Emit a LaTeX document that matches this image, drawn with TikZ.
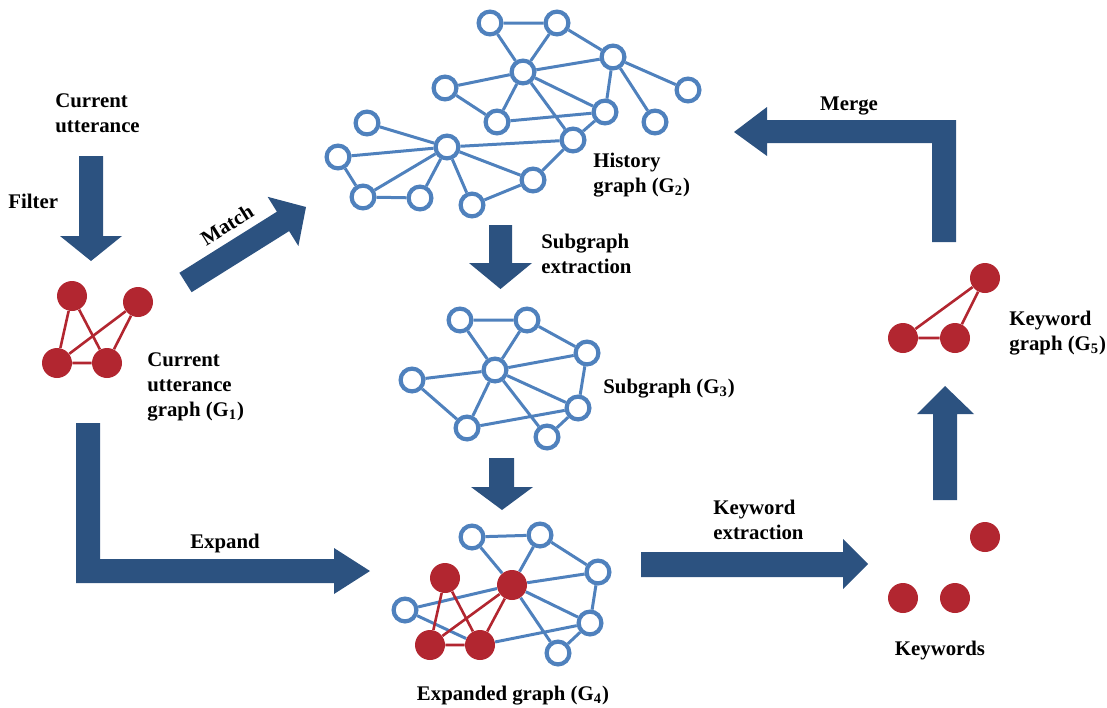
\documentclass[tikz,border=0pt]{standalone}
\usepackage{fontspec}
\setmainfont{Liberation Serif}
\definecolor{nodeblue}{RGB}{79,129,189}
\definecolor{nodered}{RGB}{178,38,48}
\definecolor{arrowblue}{RGB}{44,82,128}
\tikzset{
  bnode/.style={circle, draw=nodeblue, fill=white, line width=2.1pt, minimum size=11.4pt, inner sep=0pt},
  rnode/.style={circle, fill=nodered, minimum size=15pt, inner sep=0pt},
  bedge/.style={nodeblue, line width=1.5pt},
  redge/.style={nodered, line width=1.3pt},
  blockarrow/.style={fill=arrowblue},
  lbl/.style={font=\fontsize{10.4}{12.5}\selectfont\bfseries, inner sep=0pt, align=left, anchor=base west}
}
\begin{document}
\begin{tikzpicture}[x=0.5pt, y=-0.5pt]
    \useasboundingbox (0,0) rectangle (1107,707);
    % block arrows
    \fill[blockarrow] (79,156) -- (103,156) -- (103,236) -- (122,236) -- (91,261) -- (60,236) -- (79,236) -- cycle;
    \fill[blockarrow] (179.4,272.8) -- (276.9,211.7) -- (267.6,196.8) -- (306,207) -- (298.4,246.0) -- (289.1,231.1) -- (191.6,292.2) -- cycle;
    \fill[blockarrow] (489,225) -- (512,225) -- (512,263) -- (532,263) -- (500.5,289) -- (469,263) -- (489,263) -- cycle;
    \fill[blockarrow] (489,458) -- (514,458) -- (514,487) -- (533,487) -- (502,510) -- (471,487) -- (489,487) -- cycle;
    \fill[blockarrow] (76,423) -- (100,423) -- (100,559) -- (334,559) -- (334,548) -- (370,571) -- (334,594) -- (334,583) -- (76,583) -- cycle;
    \fill[blockarrow] (641,552) -- (843,552) -- (843,539) -- (868,564) -- (843,589) -- (843,577) -- (641,577) -- cycle;
    \fill[blockarrow] (933,500) -- (933,414) -- (917,414) -- (945,386) -- (974,414) -- (957,414) -- (957,500) -- cycle;
    \fill[blockarrow] (956,242) -- (956,120) -- (767,120) -- (767,107) -- (734,132) -- (767,156) -- (767,143) -- (932,143) -- (932,242) -- cycle;
    % history graph G2
    \node[bnode] (h1) at (490,23) {};
    \node[bnode] (h2) at (557,23) {};
    \node[bnode] (h3) at (613,57) {};
    \node[bnode] (h4) at (523,72) {};
    \node[bnode] (h5) at (445,88) {};
    \node[bnode] (h6) at (688,90) {};
    \node[bnode] (h7) at (497,122) {};
    \node[bnode] (h8) at (605,112) {};
    \node[bnode] (h9) at (655,122) {};
    \node[bnode] (h10) at (367,123) {};
    \node[bnode] (h11) at (573,140) {};
    \node[bnode] (h12) at (447,147) {};
    \node[bnode] (h13) at (338,157) {};
    \node[bnode] (h14) at (533,180) {};
    \node[bnode] (h15) at (363,197) {};
    \node[bnode] (h16) at (420,198) {};
    \node[bnode] (h17) at (472,205) {};
    \draw[bedge] (h1) -- (h2) -- (h4) -- (h1);
    \draw[bedge] (h2) -- (h3) -- (h4) -- (h5) -- (h7) -- (h4) -- (h8) -- (h3);
    \draw[bedge] (h3) -- (h6);
    \draw[bedge] (h3) -- (h9);
    \draw[bedge] (h7) -- (h8) -- (h11) -- (h4);
    \draw[bedge] (h10) -- (h12) -- (h11) -- (h14) -- (h12);
    \draw[bedge] (h12) -- (h13) -- (h15) -- (h12) -- (h16) -- (h15);
    \draw[bedge] (h12) -- (h17) -- (h14);
    % subgraph G3
    \node[bnode] (s1) at (460,320) {};
    \node[bnode] (s2) at (527,320) {};
    \node[bnode] (s3) at (587,353) {};
    \node[bnode] (s4) at (495,370) {};
    \node[bnode] (s5) at (412,380) {};
    \node[bnode] (s6) at (578,408) {};
    \node[bnode] (s7) at (467,428) {};
    \node[bnode] (s8) at (547,437) {};
    \draw[bedge] (s1) -- (s2) -- (s4) -- (s1);
    \draw[bedge] (s2) -- (s3) -- (s4) -- (s5) -- (s7) -- (s4) -- (s6) -- (s3);
    \draw[bedge] (s4) -- (s8) -- (s6) -- (s7);
    % expanded graph G4
    \node[bnode] (e1) at (472,537) {};
    \node[bnode] (e2) at (540,535) {};
    \node[bnode] (e3) at (598,572) {};
    \node[rnode] (e4) at (445,578) {};
    \node[rnode] (e5) at (512,585) {};
    \node[bnode] (e6) at (405,610) {};
    \node[bnode] (e7) at (590,623) {};
    \node[rnode] (e8) at (430,645) {};
    \node[rnode] (e9) at (480,645) {};
    \node[bnode] (e10) at (558,653) {};
    \draw[bedge] (e1) -- (e2) -- (e5) -- (e1);
    \draw[bedge] (e2) -- (e3) -- (e5) -- (e6) -- (e9) -- (e7) -- (e3);
    \draw[bedge] (e5) -- (e7) -- (e10) -- (e5);
    \draw[redge] (e4) -- (e8) -- (e9) -- (e4);
    \draw[redge] (e8) -- (e5) -- (e9);
    % current utterance graph G1
    \node[rnode] (g1) at (72,296) {};
    \node[rnode] (g2) at (138,302) {};
    \node[rnode] (g3) at (57,363) {};
    \node[rnode] (g4) at (107,363) {};
    \draw[redge] (g1) -- (g3) -- (g4) -- (g1);
    \draw[redge] (g3) -- (g2) -- (g4);
    % keywords and keyword graph G5
    \node[rnode] (k1) at (985,537) {};
    \node[rnode] (k2) at (903,598) {};
    \node[rnode] (k3) at (955,598) {};
    \node[rnode] (q1) at (985,278) {};
    \node[rnode] (q2) at (903,338) {};
    \node[rnode] (q3) at (955,338) {};
    \draw[redge] (q1) -- (q2) -- (q3) -- (q1);
    % labels (base = last line)
    \node[lbl] (curutt) at (55,132) {Current\\utterance};
    \node[lbl] (filter) at (8,208) {Filter};
    \node[lbl, anchor=center, rotate=32] (match) at (227,225) {Match};
    \node[lbl] (g1lbl) at (147,416) {Current\\utterance\\graph (G\textsubscript{1})};
    \node[lbl] (h2lbl) at (593,192) {History\\graph (G\textsubscript{2})};
    \node[lbl] (sublbl) at (541,273) {Subgraph\\extraction};
    \node[lbl] (s3lbl) at (603,393) {Subgraph (G\textsubscript{3})};
    \node[lbl, anchor=base] (e4lbl) at (513,700) {Expanded graph (G\textsubscript{4})};
    \node[lbl, anchor=base] (explbl) at (225,548) {Expand};
    \node[lbl] (kwlbl) at (713,539) {Keyword\\extraction};
    \node[lbl, anchor=base] (kwds) at (940,655) {Keywords};
    \node[lbl] (q5lbl) at (1009,350) {Keyword\\graph (G\textsubscript{5})};
    \node[lbl, anchor=base] (merge) at (849,110) {Merge};
\end{tikzpicture}
\end{document}
